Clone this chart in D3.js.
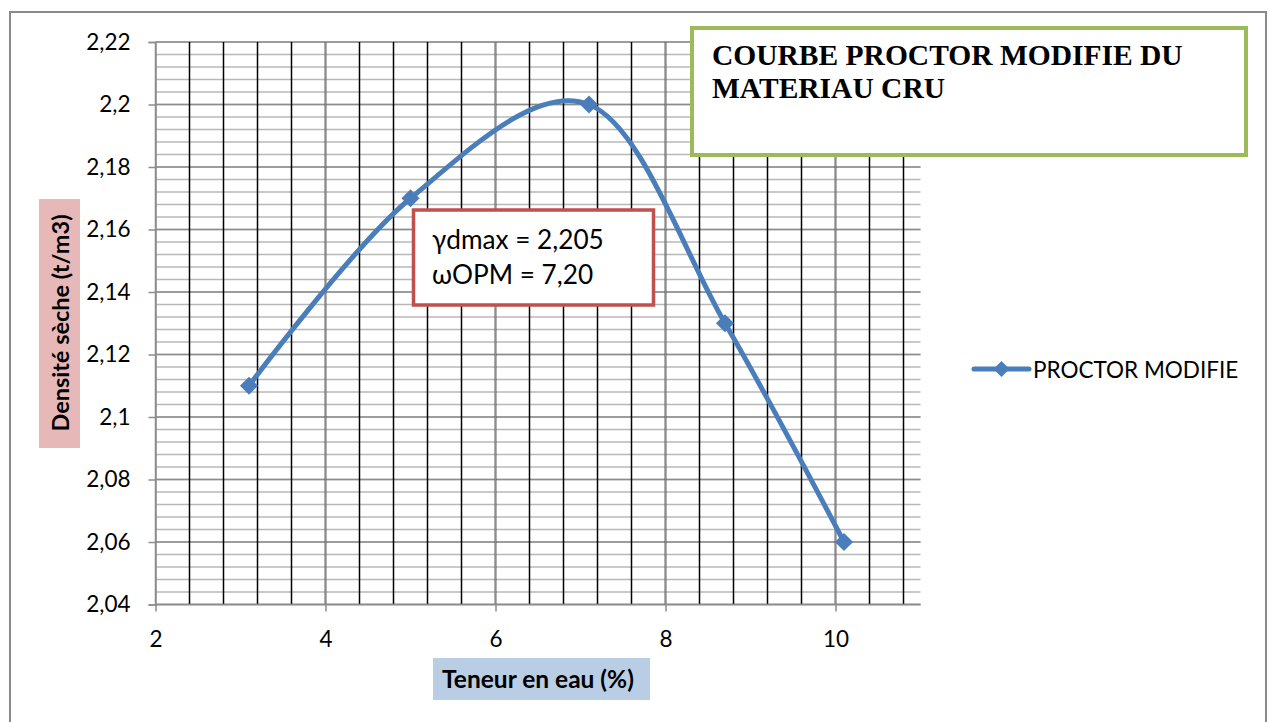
<!DOCTYPE html>
<html>
<head>
<meta charset="utf-8">
<script src="https://cdn.jsdelivr.net/npm/d3@7"></script>
<style>
  html, body { margin: 0; padding: 0; background: #fff; }
  svg { display: block; }
</style>
</head>
<body>
<div id="chart"></div>
<script>
// water content (%) and dry density (t/m3)
const teneur = [3.1, 5, 7.1, 8.7, 10.1];
const densite = [2.11, 2.17, 2.2, 2.13, 2.06];
const xTicks = [2, 4, 6, 8, 10];
const yTicks = [2.04, 2.06, 2.08, 2.1, 2.12, 2.14, 2.16, 2.18, 2.2, 2.22];
const seriesName = "PROCTOR MODIFIE";
const titleLines = ["COURBE PROCTOR MODIFIE DU", "MATERIAU CRU"];
const noteLines = ["\u03b3dmax = 2,205", "\u03c9OPM = 7,20"];

const W = 1269, H = 722;
const m = { left: 155.5, top: 42, right: 920.5, bottom: 604.5 };
const sans = "Lato, 'Open Sans', sans-serif";
const serif = "'Liberation Serif', 'Times New Roman', serif";

const svg = d3.select("#chart").append("svg")
  .attr("width", W).attr("height", H)
  .style("font-family", sans);

// outer chart border (bottom edge runs off the page)
svg.append("rect")
  .attr("x", 10).attr("y", 12)
  .attr("width", 1256).attr("height", 740)
  .attr("fill", "none").attr("stroke", "#8a8a8a").attr("stroke-width", 2);

const x = d3.scaleLinear().domain([2, 11]).range([m.left, m.right]);
const y = d3.scaleLinear().domain([2.04, 2.22]).range([m.bottom, m.top]);

const fmt = d => String(+d.toFixed(2)).replace(".", ",");

// horizontal grid: minor every 0.004, major every 0.02
const yMinor = d3.range(0, 46).map(i => 2.04 + i * 0.004);
const grid = svg.append("g");
grid.selectAll(".hmin").data(yMinor).join("line")
  .attr("x1", m.left).attr("x2", m.right)
  .attr("y1", d => y(d)).attr("y2", d => y(d))
  .attr("stroke", "#b8b8b8").attr("stroke-width", 1.5);
grid.selectAll(".hmaj").data(yTicks).join("line")
  .attr("x1", m.left).attr("x2", m.right)
  .attr("y1", d => y(d)).attr("y2", d => y(d))
  .attr("stroke", "#8c8c8c").attr("stroke-width", 1.5);

// vertical grid: black minor every 0.4, grey major every 2
const xMinor = d3.range(1, 23).map(i => 2 + i * 0.4);
grid.selectAll(".vmin").data(xMinor).join("line")
  .attr("x1", d => x(d)).attr("x2", d => x(d))
  .attr("y1", m.top).attr("y2", m.bottom)
  .attr("stroke", "#000").attr("stroke-width", 1.5);
grid.selectAll(".vmaj").data(xTicks).join("line")
  .attr("x1", d => x(d)).attr("x2", d => x(d))
  .attr("y1", m.top).attr("y2", m.bottom)
  .attr("stroke", "#8c8c8c").attr("stroke-width", 1.5);

// axes
const yAxis = svg.append("g")
  .attr("transform", `translate(${m.left},0)`)
  .call(d3.axisLeft(y).tickValues(yTicks).tickSize(7).tickPadding(18).tickFormat(fmt));
const xAxis = svg.append("g")
  .attr("transform", `translate(0,${m.bottom})`)
  .call(d3.axisBottom(x).tickValues(xTicks).tickSize(7).tickPadding(20).tickFormat(d => d));
[yAxis, xAxis].forEach(g => {
  g.attr("font-family", sans);
  g.select(".domain").attr("stroke", "#8c8c8c").attr("stroke-width", 1.5);
  g.selectAll(".tick line").attr("stroke", "#8c8c8c").attr("stroke-width", 1.5);
  g.selectAll(".tick text").attr("font-size", 22.5).attr("fill", "#000");
});
xAxis.select(".domain").attr("d", `M${m.left},0H${m.right}`);

// axis titles with coloured backgrounds
svg.append("rect").attr("x", 39).attr("y", 199).attr("width", 41).attr("height", 249)
  .attr("fill", "#e6b9b8");
svg.append("text")
  .attr("transform", "translate(69,323) rotate(-90)")
  .attr("text-anchor", "middle")
  .attr("font-size", 23.5).attr("font-weight", 700)
  .text("Densité sèche (t/m3)");

svg.append("rect").attr("x", 433).attr("y", 658).attr("width", 217).attr("height", 42)
  .attr("fill", "#b9cde5");
svg.append("text")
  .attr("x", 538).attr("y", 688)
  .attr("text-anchor", "middle")
  .attr("font-size", 24.5).attr("font-weight", 700)
  .text("Teneur en eau (%)");

// smoothed series
const pts = teneur.map((t, i) => [t, densite[i]]);
const line = d3.line().x(d => x(d[0])).y(d => y(d[1])).curve(d3.curveCatmullRom.alpha(0));
svg.append("path").datum(pts)
  .attr("d", line)
  .attr("fill", "none").attr("stroke", "#4a7ebb").attr("stroke-width", 5)
  .attr("stroke-linecap", "round");

const marker = d3.symbol().type(d3.symbolSquare).size(165);
svg.selectAll(".pt").data(pts).join("path")
  .attr("transform", d => `translate(${x(d[0])},${y(d[1])}) rotate(45)`)
  .attr("d", marker)
  .attr("fill", "#4a7ebb");

// legend
const lg = svg.append("g").attr("transform", "translate(974,369)");
lg.append("line").attr("x1", 0).attr("x2", 55).attr("y1", 0).attr("y2", 0)
  .attr("stroke", "#4a7ebb").attr("stroke-width", 5).attr("stroke-linecap", "round");
lg.append("path").attr("transform", "translate(27.5,0) rotate(45)")
  .attr("d", d3.symbol().type(d3.symbolSquare).size(130)).attr("fill", "#4a7ebb");
lg.append("text").attr("x", 59).attr("y", 9)
  .attr("font-size", 22.5).text(seriesName);

// title box
svg.append("rect").attr("x", 692).attr("y", 28).attr("width", 554).attr("height", 127)
  .attr("fill", "#fff").attr("stroke", "#9bbb59").attr("stroke-width", 4);
svg.append("g").selectAll("text").data(titleLines).join("text")
  .attr("x", 712).attr("y", (d, i) => 65 + i * 33)
  .style("font-family", serif)
  .attr("font-weight", 700).attr("font-size", 29.5)
  .text(d => d);

// annotation box
svg.append("rect").attr("x", 413.5).attr("y", 210).attr("width", 240).attr("height", 95)
  .attr("fill", "#fff").attr("stroke", "#c0504d").attr("stroke-width", 3.5);
svg.append("g").selectAll("text").data(noteLines).join("text")
  .attr("x", 432).attr("y", (d, i) => 249 + i * 35)
  .attr("font-size", 26.2)
  .text(d => d);
</script>
</body>
</html>
